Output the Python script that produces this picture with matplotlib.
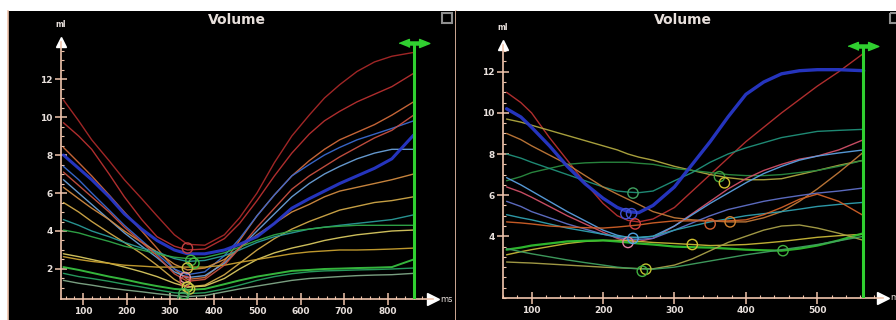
import numpy as np
import matplotlib
matplotlib.use('agg')
import matplotlib.pyplot as plt
from matplotlib.patches import Rectangle

# ---- data (ms, ml) ----
left_ms = [55, 90, 120, 160, 195, 235, 270, 310, 340, 380, 425,
           460, 500, 540, 580, 620, 655, 690, 730, 770, 810, 860]
l_red1 = [10.9, 9.8, 8.8, 7.7, 6.7, 5.7, 4.8, 3.8, 3.3, 3.25, 3.8,
          4.7, 6.0, 7.6, 9.0, 10.1, 11.0, 11.7, 12.4, 12.9, 13.2, 13.4]
l_red2 = [9.7, 9.0, 8.3, 7.0, 5.8, 4.6, 3.7, 3.2, 3.0, 3.05, 3.6,
          4.4, 5.6, 6.9, 8.1, 9.1, 9.8, 10.3, 10.8, 11.2, 11.6, 12.3]
l_orange1 = [8.4, 7.6, 6.9, 5.9, 5.0, 4.0, 3.1, 2.0, 1.45, 1.55, 2.4,
             3.5, 4.8, 5.9, 6.9, 7.7, 8.3, 8.8, 9.2, 9.6, 10.1, 10.8]
l_blue_thick = [8.0, 7.3, 6.7, 5.8, 4.9, 4.1, 3.5, 3.0, 2.8, 2.8, 3.0,
                3.3, 3.7, 4.4, 5.2, 5.7, 6.1, 6.5, 6.9, 7.3, 7.8, 9.05]
l_blue = [7.4, 6.7, 6.0, 5.1, 4.3, 3.5, 2.8, 2.0, 1.7, 1.85, 2.7,
          3.6, 4.8, 5.9, 6.9, 7.5, 8.0, 8.4, 8.8, 9.1, 9.4, 9.8]
l_ltblue = [6.7, 6.0, 5.4, 4.6, 3.9, 3.2, 2.6, 1.85, 1.55, 1.65, 2.3,
            3.1, 4.0, 4.9, 5.8, 6.5, 7.0, 7.4, 7.8, 8.1, 8.3, 8.3]
l_orange2 = [6.3, 5.7, 5.2, 4.6, 4.0, 3.4, 2.9, 2.25, 1.95, 2.05, 2.5,
             3.1, 3.8, 4.4, 5.0, 5.4, 5.8, 6.1, 6.3, 6.5, 6.7, 7.0]
l_yellow1 = [5.5, 5.0, 4.5, 3.9, 3.4, 2.8, 2.2, 1.45, 1.05, 1.15, 1.7,
             2.3, 3.0, 3.6, 4.1, 4.5, 4.8, 5.1, 5.3, 5.5, 5.6, 5.8]
l_teal = [4.6, 4.3, 4.0, 3.7, 3.4, 3.1, 2.9, 2.55, 2.4, 2.45, 2.7,
          3.0, 3.4, 3.7, 3.9, 4.1, 4.2, 4.3, 4.4, 4.5, 4.6, 4.85]
l_green1 = [4.05, 3.9, 3.7, 3.45, 3.2, 3.0, 2.8, 2.62, 2.55, 2.6, 2.85,
            3.15, 3.5, 3.8, 4.0, 4.1, 4.2, 4.25, 4.3, 4.3, 4.3, 4.3]
l_yellow2 = [2.8, 2.65, 2.5, 2.3, 2.1, 1.85, 1.6, 1.25, 1.05, 1.1, 1.5,
             2.0, 2.5, 2.85, 3.1, 3.3, 3.5, 3.65, 3.8, 3.9, 4.0, 4.05]
l_yellow3 = [2.65, 2.5, 2.4, 2.3, 2.2, 2.15, 2.1, 2.1, 2.1, 2.1, 2.2,
             2.35, 2.5, 2.65, 2.8, 2.9, 2.95, 3.0, 3.0, 3.02, 3.05, 3.1]
l_green2 = [2.1, 1.95, 1.8, 1.6, 1.45, 1.25, 1.1, 0.95, 0.9, 0.95, 1.2,
            1.4, 1.6, 1.75, 1.9, 1.95, 2.0, 2.02, 2.05, 2.07, 2.1, 2.5]
l_green3 = [1.77, 1.6, 1.5, 1.35, 1.2, 1.05, 0.9, 0.75, 0.7, 0.75, 0.95,
            1.15, 1.4, 1.6, 1.75, 1.85, 1.9, 1.92, 1.95, 1.97, 2.0, 2.05]
l_gray = [1.4, 1.25, 1.15, 1.0, 0.9, 0.8, 0.7, 0.6, 0.55, 0.6, 0.8,
          0.95, 1.1, 1.25, 1.4, 1.5, 1.55, 1.6, 1.65, 1.68, 1.7, 1.77]
l_redor = [7.1, 6.4, 5.8, 5.0, 4.2, 3.4, 2.7, 1.75, 1.35, 1.45, 2.2,
           3.1, 4.2, 5.2, 6.2, 6.9, 7.4, 7.9, 8.4, 8.9, 9.3, 10.1]

left_ring_ms = [340, 348, 355, 340, 335, 335, 340, 345, 332, 330]
left_ring_ml = [3.1, 2.45, 2.3, 2.05, 1.55, 1.35, 1.05, 0.95, 0.7, 0.5]

right_ms = [65, 85, 100, 125, 150, 175, 200, 220, 235, 250, 270,
            300, 325, 350, 375, 400, 425, 450, 475, 500, 530, 565]
r_blue_thick = [10.2, 9.8, 9.3, 8.4, 7.4, 6.55, 5.85, 5.4, 5.2, 5.15, 5.5,
                6.4, 7.5, 8.6, 9.8, 10.9, 11.5, 11.9, 12.05, 12.1, 12.1, 12.05]
r_red = [11.0, 10.5, 10.0, 8.8, 7.7, 6.6, 5.6, 5.0, 4.77, 4.7, 4.84,
         5.4, 6.2, 7.0, 7.8, 8.6, 9.3, 10.0, 10.65, 11.3, 12.0, 12.9]
r_olive = [9.7, 9.55, 9.4, 9.15, 8.9, 8.65, 8.4, 8.2, 8.0, 7.85, 7.7,
           7.4, 7.2, 7.0, 6.85, 6.75, 6.75, 6.8, 7.0, 7.2, 7.45, 7.7]
r_dkgreen = [6.7, 6.9, 7.1, 7.3, 7.5, 7.57, 7.6, 7.6, 7.6, 7.55, 7.5,
             7.3, 7.2, 7.1, 7.0, 6.95, 6.95, 7.0, 7.1, 7.2, 7.4, 7.7]
r_teal1 = [8.0, 7.8, 7.6, 7.3, 7.0, 6.7, 6.4, 6.2, 6.15, 6.12, 6.2,
           6.7, 7.1, 7.6, 8.0, 8.3, 8.55, 8.8, 8.95, 9.1, 9.15, 9.2]
r_brown = [9.0, 8.7, 8.4, 7.95, 7.5, 6.95, 6.4, 6.05, 5.8, 5.55, 5.2,
           4.9, 4.8, 4.75, 4.7, 4.7, 4.9, 5.2, 5.7, 6.3, 7.1, 8.1]
r_pink = [6.4, 6.15, 5.9, 5.45, 5.0, 4.6, 4.2, 3.9, 3.75, 3.75, 3.9,
          4.5, 5.1, 5.7, 6.3, 6.8, 7.2, 7.5, 7.75, 7.9, 8.2, 8.7]
r_ltblue = [6.85, 6.5, 6.2, 5.7, 5.2, 4.75, 4.3, 4.05, 3.95, 3.93, 4.0,
            4.5, 5.05, 5.6, 6.1, 6.6, 7.05, 7.4, 7.7, 7.9, 8.05, 8.2]
r_blue = [5.7, 5.45, 5.2, 4.9, 4.6, 4.35, 4.1, 3.95, 3.85, 3.85, 3.9,
          4.3, 4.65, 5.0, 5.3, 5.5, 5.7, 5.85, 5.98, 6.1, 6.2, 6.35]
r_teal2 = [5.05, 4.9, 4.8, 4.6, 4.4, 4.25, 4.1, 4.0, 3.95, 3.95, 4.0,
           4.3, 4.5, 4.7, 4.85, 5.0, 5.1, 5.2, 5.32, 5.45, 5.55, 5.65]
r_orange = [4.7, 4.65, 4.6, 4.5, 4.45, 4.42, 4.4, 4.45, 4.5, 4.55, 4.65,
            4.75, 4.75, 4.75, 4.75, 4.8, 5.05, 5.4, 5.8, 6.05, 5.7, 5.0]
r_yellow = [3.1, 3.25, 3.35, 3.5, 3.65, 3.75, 3.8, 3.8, 3.8, 3.75, 3.7,
            3.65, 3.6, 3.55, 3.57, 3.6, 3.67, 3.75, 3.85, 3.95, 4.03, 4.1]
r_green = [3.35, 3.45, 3.55, 3.65, 3.75, 3.78, 3.8, 3.75, 3.7, 3.65, 3.6,
           3.5, 3.47, 3.45, 3.4, 3.35, 3.32, 3.3, 3.4, 3.55, 3.8, 4.15]
r_olive2 = [2.75, 2.72, 2.7, 2.65, 2.6, 2.55, 2.5, 2.47, 2.45, 2.43, 2.42,
            2.6, 2.9, 3.3, 3.7, 4.0, 4.3, 4.5, 4.55, 4.4, 4.15, 3.8]
r_green2 = [3.4, 3.25, 3.15, 3.0, 2.85, 2.72, 2.6, 2.5, 2.45, 2.42, 2.4,
            2.5, 2.65, 2.8, 2.95, 3.1, 3.22, 3.35, 3.47, 3.6, 3.78, 4.0]

right_ring_ms = [232, 240, 242, 245, 235, 242, 325, 350, 378, 363, 370, 452, 260, 255]
right_ring_ml = [5.1, 5.1, 6.1, 4.6, 3.7, 3.9, 3.6, 4.6, 4.7, 6.9, 6.6, 3.3, 2.4, 2.3]

# ---- styles ----
left_lines = [
    (l_red1, '#a82828', 1.0), (l_red2, '#b83030', 1.0), (l_orange1, '#d06a3a', 1.0),
    (l_blue, '#3a6ad0', 1.0), (l_ltblue, '#6aa0d8', 1.0), (l_orange2, '#d08a40', 1.0),
    (l_yellow1, '#d0a848', 1.0), (l_teal, '#2a9a98', 1.0), (l_green1, '#30a848', 1.0),
    (l_yellow2, '#d8c860', 1.0), (l_yellow3, '#c8a030', 1.0), (l_green2, '#38c040', 1.4),
    (l_green3, '#28a060', 1.0), (l_gray, '#80a888', 1.0), (l_redor, '#c85040', 1.0),
    (l_blue_thick, '#2838c8', 2.2),
]
left_ring_colors = ['#c04040', '#40b040', '#40c040', '#c8c040', '#e090a0', '#d05050',
                    '#d0d040', '#c0c040', '#40b050', '#40a060']

right_lines = [
    (r_red, '#b83030', 1.0), (r_olive, '#b0a840', 1.0), (r_dkgreen, '#2a8a40', 1.0),
    (r_teal1, '#20907a', 1.0), (r_brown, '#c07838', 1.0), (r_pink, '#d05068', 1.0),
    (r_ltblue, '#5aa0e0', 1.0), (r_blue, '#6070c8', 1.0), (r_teal2, '#30a0b0', 1.0),
    (r_orange, '#d06028', 1.0), (r_yellow, '#c8b838', 1.0), (r_green, '#30c030', 1.6),
    (r_olive2, '#a8a048', 1.0), (r_green2, '#40a060', 1.0), (r_blue_thick, '#2838c8', 2.4),
]
right_ring_colors = ['#4050d0', '#4050d0', '#40a060', '#d04040', '#e080a0', '#50a0e0',
                     '#d0c030', '#d06030', '#d08030', '#40a040', '#d0c030', '#40b040',
                     '#c0c030', '#40b040']

AX = '#f0c4ac'
TXT = '#e8e0dc'
GREEN = '#30d030'
W, H = 896, 320

fig = plt.figure(figsize=(W / 100, H / 100), dpi=100, facecolor='white')


def px_axes(x0, y0, x1, y1, **kw):
    return fig.add_axes([x0 / W, 1 - y1 / H, (x1 - x0) / W, (y1 - y0) / H], **kw)


def panel(bx0, bx1, box, data_box, xlim, ylim, xticks, yticks, green_x, title_x,
          ms, lines, ring_ms, ring_ml, ring_colors, left_border=True):
    bg = px_axes(bx0, 11, bx1, 321, facecolor='black')
    bg.set_xticks([])
    bg.set_yticks([])
    for s in bg.spines.values():
        s.set_color(AX)
        s.set_linewidth(1.2)
    bg.spines['top'].set_visible(False)
    bg.spines['left'].set_visible(left_border)
    bg.set_xlim(bx0, bx1)
    bg.set_ylim(321, 11)
    bg.text(title_x, 20, 'Volume', color=TXT, fontsize=10, fontweight='bold',
            ha='center', va='center')
    bg.add_patch(Rectangle((box, 13), 10, 10, fill=False, ec='#909090', lw=1.5))

    x0, y0, x1, y1 = data_box
    ax = px_axes(x0, y0, x1, y1, facecolor='none')
    ax.set_xlim(*xlim)
    ax.set_ylim(*ylim)
    for s in ['top', 'right']:
        ax.spines[s].set_visible(False)
    for s in ['left', 'bottom']:
        ax.spines[s].set_color(AX)
        ax.spines[s].set_linewidth(1.2)
    ax.set_xticks(xticks)
    ax.set_yticks(yticks)
    ax.set_xticks(np.arange(60, xlim[1], 20), minor=True)
    ax.set_yticks(np.arange(1, ylim[1], 0.5), minor=True)
    ax.tick_params(which='major', direction='inout', length=8, width=1.1, color=AX,
                   labelcolor=TXT, labelsize=6.5, pad=2)
    ax.tick_params(which='minor', direction='in', length=2, width=0.8, color=AX)
    for lab in ax.get_xticklabels() + ax.get_yticklabels():
        lab.set_fontweight('bold')

    for vals, c, lw in lines:
        ax.plot(ms, vals, color=c, lw=lw, alpha=0.95, solid_joinstyle='round',
                solid_capstyle='round')
    ax.scatter(ring_ms, ring_ml, s=55, facecolors='none', edgecolors=ring_colors,
               linewidths=1.0, zorder=5)

    # green cursor line with double arrow
    ax.axvline(green_x, color=GREEN, lw=2.2, zorder=6)
    ax.plot([green_x], [ylim[1] - 0.05], marker=[(-6, 0), (-2, 1.6), (-2, 0.6), (2, 0.6),
            (2, 1.6), (6, 0), (2, -1.6), (2, -0.6), (-2, -0.6), (-2, -1.6)],
            ms=22, color=GREEN, clip_on=False, zorder=7)

    # axis arrows and unit labels
    ax.plot([0], [1], marker='^', ms=7, color='white', transform=ax.transAxes, clip_on=False)
    ax.plot([1], [0], marker='>', ms=8, color='white', transform=ax.transAxes, clip_on=False)
    ax.text(0, 1.05, 'ml', transform=ax.transAxes, color=TXT, fontsize=5.5,
            fontweight='bold', ha='center', va='bottom')
    ax.text(1.02, 0, 'ms', transform=ax.transAxes, color=TXT, fontsize=6,
            ha='left', va='center', clip_on=False)
    return ax


panel(8, 456, 442, (61, 42, 433, 299), (49.4, 904.6), (0.42, 13.95),
      [100, 200, 300, 400, 500, 600, 700, 800], [2, 4, 6, 8, 10, 12], 861, 237,
      left_ms, left_lines, left_ring_ms, left_ring_ml, left_ring_colors)
panel(456, 897, 890, (503, 45, 883, 298), (60.8, 592), (2.34, 13.3),
      [100, 200, 300, 400, 500], [4, 6, 8, 10, 12], 564, 683,
      right_ms, right_lines, right_ring_ms, right_ring_ml, right_ring_colors,
      left_border=False)

plt.savefig('out.png', dpi=100, facecolor='white')
